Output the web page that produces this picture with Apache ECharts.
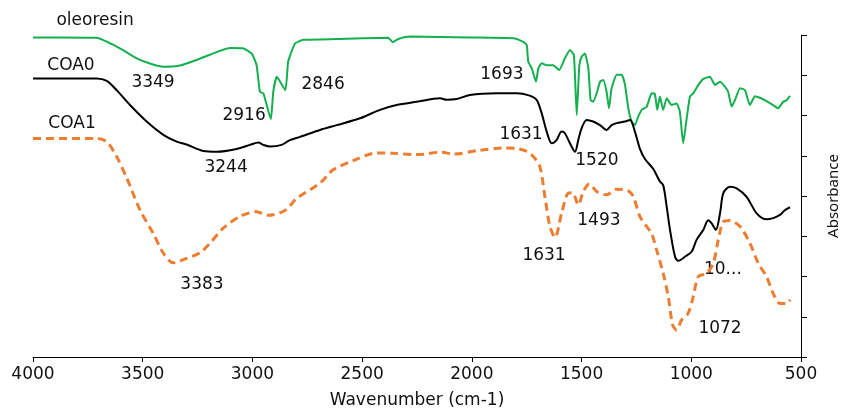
<!DOCTYPE html>
<html><head><meta charset="utf-8">
<script src="https://cdn.jsdelivr.net/npm/echarts@6/dist/echarts.min.js"></script>
<style>html,body{margin:0;padding:0;background:#fff}#c{width:841px;height:412px}</style>
</head><body><div id="c"></div>
<script>
// ---- data (wavenumber cm-1, value) ----
const oleoresinWn = [4000,3877,3710,3604,3527,3467,3406,3330,3254,3102,3043,3003,2981,2966,2950,2916,2905,2889,2850,2837,2806,2768,2616,2381,2361,2335,2282,2009,1811,1766,1750,1743,1727,1708,1697,1682,1659,1629,1602,1576,1553,1535,1522,1510,1500,1485,1469,1459,1447,1429,1416,1401,1386,1375,1363,1340,1317,1302,1287,1272,1257,1242,1226,1203,1181,1166,1155,1143,1128,1112,1090,1067,1052,1037,1021,1006,991,968,945,915,892,869,847,832,816,801,778,755,733,710,687,657,627,604,581,566,550];
const oleoresinVal = [99.4,99.4,99.3,96.7,94.2,92.9,92.1,92.4,93.8,96.8,96.7,95.4,92.5,85.9,85.5,79.1,85.9,89.6,86.3,93.4,97.9,98.8,99.0,99.3,98.2,99.0,99.6,99.4,99.2,98.3,97.5,93.4,91.7,88.4,91.7,93.0,92.5,92.5,91.3,94.2,96.3,95.0,80.1,92.5,94.6,95.4,91.7,83.8,83.4,85.9,88.4,88.8,85.9,81.8,86.8,90.1,90.1,87.6,81.8,78.5,77.6,79.7,81.4,82.2,85.5,85.3,81.4,84.7,81.4,84.3,82.6,83.0,80.9,73.1,79.3,84.7,85.5,87.6,89.1,89.6,87.6,88.4,87.2,85.9,82.2,83.8,86.8,86.3,82.6,84.8,84.4,83.6,82.6,81.8,83.4,83.8,84.9];

const coa0Wn = [4000,3877,3710,3664,3619,3558,3482,3406,3345,3300,3224,3163,3072,3011,2973,2950,2920,2867,2829,2783,2692,2616,2510,2419,2343,2251,2145,2115,2069,2009,1887,1796,1740,1705,1682,1659,1636,1614,1591,1576,1553,1530,1515,1500,1477,1447,1416,1386,1363,1340,1302,1279,1257,1234,1211,1173,1143,1128,1112,1097,1074,1059,1029,998,976,945,923,907,888,869,854,824,793,748,702,657,627,596,573,550];
const coa0Val = [89.2,89.2,89.2,88.6,86.3,82.6,78.5,75.2,73.5,72.8,71.2,71.0,71.7,72.7,73.3,72.7,72.3,72.7,73.9,74.7,76.4,77.6,79.3,81.4,82.6,83.4,84.3,83.9,84.1,85.1,85.5,85.5,85.0,83.9,80.6,76.0,73.1,73.9,76.0,75.6,73.1,71.0,73.9,76.8,78.9,78.5,77.6,76.4,77.6,78.1,78.5,78.9,76.0,71.7,69.2,66.7,63.6,62.7,57.3,51.6,44.9,43.9,44.9,46.2,49.1,51.6,54.0,53.2,51.6,55.7,60.7,62.3,61.9,59.8,55.7,54.2,54.5,55.3,56.5,57.2];

const coa1Wn = [4000,3877,3710,3664,3619,3573,3512,3452,3406,3361,3300,3239,3193,3133,3057,2981,2929,2852,2798,2692,2632,2540,2434,2358,2267,2221,2138,2085,1972,1857,1796,1750,1720,1690,1667,1644,1621,1591,1561,1541,1515,1492,1465,1431,1386,1340,1287,1264,1234,1203,1181,1158,1128,1105,1085,1067,1044,1014,991,968,930,900,877,854,824,778,733,695,657,627,596,565,550];
const coa1Val = [74.3,74.3,74.3,73.5,69.8,64.5,56.5,50.7,45.8,43.4,44.5,45.9,48.3,52.0,54.9,56.1,55.2,56.4,59.4,63.2,66.5,68.8,70.7,70.6,70.3,70.4,70.9,70.4,71.3,71.9,71.8,71.1,69.8,67.3,59.8,52.4,49.7,55.7,60.7,60.8,57.8,61.1,63.0,61.1,60.3,61.7,61.3,59.8,54.9,52.4,50.7,46.6,40.8,35.0,28.0,26.7,29.2,30.9,35.0,40.0,40.8,43.3,49.1,53.6,53.9,52.4,48.3,43.3,40.0,35.8,33.3,33.3,34.2];

// annotation texts and their anchor in data coordinates
const annoText = ['oleoresin','COA0','COA1','3349','2916','3244','2846','1693','1631','1520','1493','1631','10...','1072','3383'];
const annoWn   = [3717,3827,3822,3453,3038,3120,2678,1863,1776,1430,1421,1671,856,869,3230];
const annoVal  = [103.5,92.3,78.1,88.3,79.9,67.0,87.6,90.1,75.2,68.9,54.0,45.3,41.6,27.0,38.1];

const seriesNames = ['oleoresin','COA0','COA1'];

function pairs(a,b){return a.map((x,i)=>[x,b[i]]);}
const FONT = 'DejaVu Sans';
const TXT = '#111';
const chart = echarts.init(document.getElementById('c'), null, {renderer:'canvas'});
chart.setOption({
  animation:false,
  backgroundColor:'#fff',
  grid:{left:33,right:40,top:35,bottom:55,containLabel:false,outerBoundsMode:'none'},
  xAxis:{
    type:'value',min:500,max:4000,interval:500,inverse:true,
    axisLine:{show:true,lineStyle:{color:'#000',width:1}},
    axisTick:{show:true,length:5,lineStyle:{color:'#000'}},
    splitLine:{show:false},
    axisLabel:{fontFamily:FONT,fontSize:17,color:TXT,margin:9,formatter:v=>String(v)},
    name:'Wavenumber (cm-1)',nameLocation:'middle',nameGap:35,
    nameTextStyle:{fontFamily:FONT,fontSize:17,color:TXT}
  },
  yAxis:{
    type:'value',position:'right',min:20,max:100,interval:10,
    axisLine:{show:true,lineStyle:{color:'#000',width:1}},
    axisTick:{show:true,length:6,lineStyle:{color:'#000'}},
    splitLine:{show:false},
    axisLabel:{show:false},
    name:'Absorbance',nameLocation:'middle',nameRotate:90,nameGap:25,
    nameTextStyle:{fontFamily:'Noto Sans',fontSize:15,color:TXT}
  },
  series:[
    {name:seriesNames[0],type:'line',data:pairs(oleoresinWn,oleoresinVal),showSymbol:false,smooth:0.15,
     lineStyle:{color:'#14b04f',width:2}},
    {name:seriesNames[1],type:'line',data:pairs(coa0Wn,coa0Val),showSymbol:false,smooth:0.3,
     lineStyle:{color:'#000',width:2}},
    {name:seriesNames[2],type:'line',data:pairs(coa1Wn,coa1Val),showSymbol:false,smooth:0.3,
     lineStyle:{color:'#ED7D31',width:3,type:[8,5]}},
    {type:'scatter',clip:false,silent:true,symbolSize:0,itemStyle:{color:'#fff',opacity:1},
     data:annoText.map((t,i)=>({value:[annoWn[i],annoVal[i]],name:t})),
     label:{show:true,position:'inside',formatter:p=>p.name,fontFamily:FONT,fontSize:17,color:TXT,
            textBorderWidth:0,textBorderColor:'transparent',opacity:1}}
  ]
});
</script></body></html>
